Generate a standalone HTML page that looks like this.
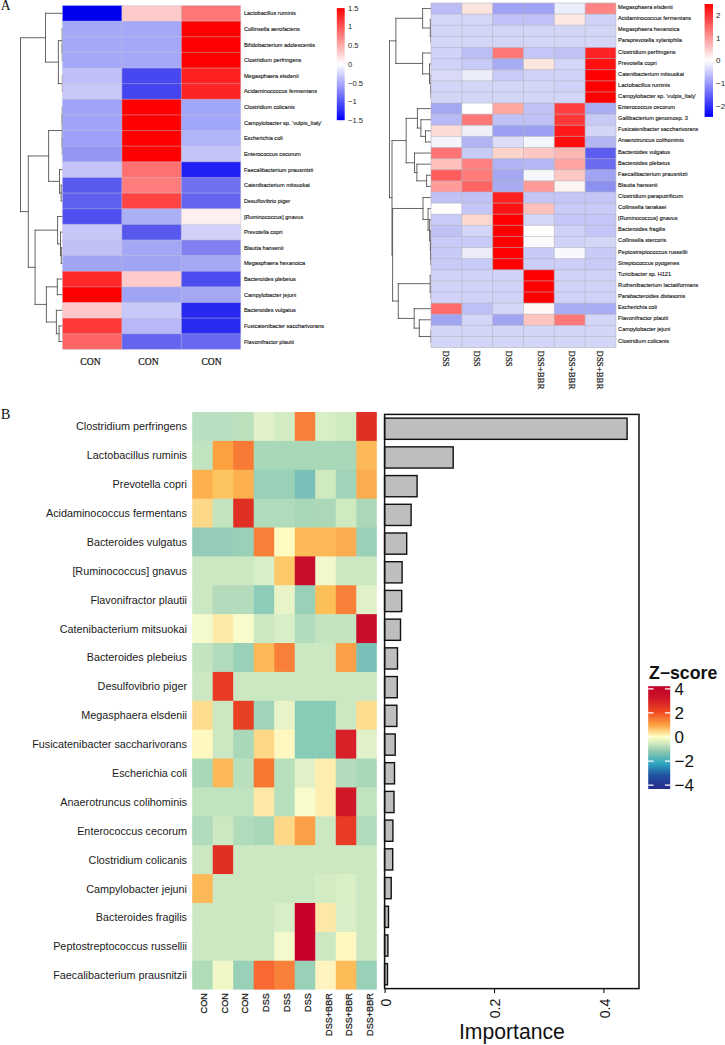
<!DOCTYPE html>
<html><head><meta charset="utf-8"><style>
html,body{margin:0;padding:0;background:#fff;}
body{width:725px;height:1045px;overflow:hidden;font-family:"Liberation Sans", sans-serif;}
svg{display:block;}
</style></head><body>
<svg width="725" height="1045" viewBox="0 0 725 1045">
<rect width="725" height="1045" fill="#FFFFFF"/>
<path d="M431.00 30.79L431.00 30.79M431.00 41.91L431.00 41.91M431.00 30.79L431.00 41.91M431.00 19.67L430.30 19.67M431.00 36.35L430.30 36.35M430.30 19.67L430.30 36.35M431.00 8.56L422.60 8.56M430.30 28.01L422.60 28.01M422.60 8.56L422.60 28.01M431.00 86.37L431.00 86.37M431.00 97.49L431.00 97.49M431.00 86.37L431.00 97.49M431.00 75.25L431.00 75.25M431.00 91.93L431.00 91.93M431.00 75.25L431.00 91.93M431.00 64.14L429.50 64.14M431.00 83.59L429.50 83.59M429.50 64.14L429.50 83.59M431.00 53.02L422.60 53.02M429.50 73.86L422.60 73.86M422.60 53.02L422.60 73.86M422.60 18.28L395.90 18.28M422.60 63.44L395.90 63.44M395.90 18.28L395.90 63.44M431.00 130.83L425.50 130.83M431.00 141.95L425.50 141.95M425.50 130.83L425.50 141.95M431.00 119.72L420.90 119.72M425.50 136.39L420.90 136.39M420.90 119.72L420.90 136.39M431.00 108.60L417.40 108.60M420.90 128.06L417.40 128.06M417.40 108.60L417.40 128.06M431.00 175.30L426.60 175.30M431.00 186.41L426.60 186.41M426.60 175.30L426.60 186.41M431.00 164.18L416.90 164.18M426.60 180.86L416.90 180.86M416.90 164.18L416.90 180.86M431.00 153.07L414.50 153.07M416.90 172.52L414.50 172.52M414.50 153.07L414.50 172.52M417.40 118.33L406.20 118.33M414.50 162.79L406.20 162.79M406.20 118.33L406.20 162.79M431.00 253.11L430.80 253.11M431.00 264.23L430.80 264.23M430.80 253.11L430.80 264.23M431.00 241.99L430.60 241.99M430.80 258.67L430.60 258.67M430.60 241.99L430.60 258.67M431.00 230.88L430.30 230.88M430.60 250.33L430.30 250.33M430.30 230.88L430.30 250.33M431.00 219.76L429.60 219.76M430.30 240.60L429.60 240.60M429.60 219.76L429.60 240.60M431.00 208.65L428.10 208.65M429.60 230.18L428.10 230.18M428.10 208.65L428.10 230.18M431.00 197.53L423.00 197.53M428.10 219.41L423.00 219.41M423.00 197.53L423.00 219.41M431.00 286.46L431.00 286.46M431.00 297.57L431.00 297.57M431.00 286.46L431.00 297.57M431.00 275.34L430.20 275.34M431.00 292.02L430.20 292.02M430.20 275.34L430.20 292.02M431.00 330.92L431.00 330.92M431.00 342.04L431.00 342.04M431.00 330.92L431.00 342.04M431.00 319.81L419.30 319.81M431.00 336.48L419.30 336.48M419.30 319.81L419.30 336.48M431.00 308.69L414.20 308.69M419.30 328.14L414.20 328.14M414.20 308.69L414.20 328.14M430.20 283.68L398.30 283.68M414.20 318.42L398.30 318.42M398.30 283.68L398.30 318.42M423.00 208.47L392.60 208.47M398.30 301.05L392.60 301.05M392.60 208.47L392.60 301.05M406.20 140.56L392.00 140.56M392.60 254.76L392.00 254.76M392.00 140.56L392.00 254.76M395.90 40.86L389.50 40.86M392.00 197.66L389.50 197.66M389.50 40.86L389.50 197.66" stroke="#555" stroke-width="0.9" fill="none" stroke-linecap="square"/>
<path d="M62.40 44.58L62.30 44.58M62.40 60.21L62.30 60.21M62.30 44.58L62.30 60.21M62.40 28.95L62.20 28.95M62.30 52.39L62.20 52.39M62.20 28.95L62.20 52.39M62.40 75.84L62.40 75.84M62.40 91.47L62.40 91.47M62.40 75.84L62.40 91.47M62.20 40.67L58.40 40.67M62.40 83.65L58.40 83.65M58.40 40.67L58.40 83.65M62.40 13.32L45.50 13.32M58.40 62.16L45.50 62.16M45.50 13.32L45.50 62.16M62.40 107.09L62.30 107.09M62.40 122.73L62.30 122.73M62.30 107.09L62.30 122.73M62.40 138.36L62.30 138.36M62.40 153.99L62.30 153.99M62.30 138.36L62.30 153.99M62.30 114.91L62.20 114.91M62.30 146.17L62.20 146.17M62.20 114.91L62.20 146.17M62.40 185.25L61.20 185.25M62.40 200.88L61.20 200.88M61.20 185.25L61.20 200.88M62.40 169.62L59.50 169.62M61.20 193.06L59.50 193.06M59.50 169.62L59.50 193.06M62.20 130.54L48.60 130.54M59.50 181.34L48.60 181.34M48.60 130.54L48.60 181.34M62.40 247.77L61.30 247.77M62.40 263.40L61.30 263.40M61.30 247.77L61.30 263.40M62.40 232.14L60.50 232.14M61.30 255.58L60.50 255.58M60.50 232.14L60.50 255.58M62.40 216.51L57.60 216.51M60.50 243.86L57.60 243.86M57.60 216.51L57.60 243.86M62.40 279.03L57.30 279.03M62.40 294.66L57.30 294.66M57.30 279.03L57.30 294.66M62.40 325.92L59.10 325.92M62.40 341.55L59.10 341.55M59.10 325.92L59.10 341.55M62.40 310.29L56.40 310.29M59.10 333.73L56.40 333.73M56.40 310.29L56.40 333.73M57.30 286.84L46.40 286.84M56.40 322.01L46.40 322.01M46.40 286.84L46.40 322.01M57.60 230.18L35.10 230.18M46.40 304.42L35.10 304.42M35.10 230.18L35.10 304.42M48.60 155.94L28.30 155.94M35.10 267.30L28.30 267.30M28.30 155.94L28.30 267.30M45.50 37.74L20.50 37.74M28.30 211.62L20.50 211.62M20.50 37.74L20.50 211.62" stroke="#555" stroke-width="0.9" fill="none" stroke-linecap="square"/>
<rect x="62.40" y="5.50" width="60.05" height="16.23" fill="#0000F0"/>
<rect x="121.85" y="5.50" width="60.05" height="16.23" fill="#FDCACA"/>
<rect x="181.30" y="5.50" width="59.45" height="16.23" fill="#FF7878"/>
<rect x="62.40" y="21.13" width="60.05" height="16.23" fill="#A4A8F8"/>
<rect x="121.85" y="21.13" width="60.05" height="16.23" fill="#A4A8F8"/>
<rect x="181.30" y="21.13" width="59.45" height="16.23" fill="#FF0000"/>
<rect x="62.40" y="36.76" width="60.05" height="16.23" fill="#A4A8F8"/>
<rect x="121.85" y="36.76" width="60.05" height="16.23" fill="#A4A8F8"/>
<rect x="181.30" y="36.76" width="59.45" height="16.23" fill="#FF0000"/>
<rect x="62.40" y="52.39" width="60.05" height="16.23" fill="#A4A8F8"/>
<rect x="121.85" y="52.39" width="60.05" height="16.23" fill="#A4A8F8"/>
<rect x="181.30" y="52.39" width="59.45" height="16.23" fill="#FF0000"/>
<rect x="62.40" y="68.02" width="60.05" height="16.23" fill="#C0C0F8"/>
<rect x="121.85" y="68.02" width="60.05" height="16.23" fill="#4848F0"/>
<rect x="181.30" y="68.02" width="59.45" height="16.23" fill="#FF2020"/>
<rect x="62.40" y="83.65" width="60.05" height="16.23" fill="#C8C8F8"/>
<rect x="121.85" y="83.65" width="60.05" height="16.23" fill="#4444F0"/>
<rect x="181.30" y="83.65" width="59.45" height="16.23" fill="#FF2424"/>
<rect x="62.40" y="99.28" width="60.05" height="16.23" fill="#A0A4F8"/>
<rect x="121.85" y="99.28" width="60.05" height="16.23" fill="#FF0000"/>
<rect x="181.30" y="99.28" width="59.45" height="16.23" fill="#A0A6F8"/>
<rect x="62.40" y="114.91" width="60.05" height="16.23" fill="#A0A4F8"/>
<rect x="121.85" y="114.91" width="60.05" height="16.23" fill="#FF0000"/>
<rect x="181.30" y="114.91" width="59.45" height="16.23" fill="#A0A6F8"/>
<rect x="62.40" y="130.54" width="60.05" height="16.23" fill="#9CA0F6"/>
<rect x="121.85" y="130.54" width="60.05" height="16.23" fill="#FF0000"/>
<rect x="181.30" y="130.54" width="59.45" height="16.23" fill="#B0B4F8"/>
<rect x="62.40" y="146.17" width="60.05" height="16.23" fill="#9496F4"/>
<rect x="121.85" y="146.17" width="60.05" height="16.23" fill="#FF0000"/>
<rect x="181.30" y="146.17" width="59.45" height="16.23" fill="#C4C4F8"/>
<rect x="62.40" y="161.80" width="60.05" height="16.23" fill="#C4C4F8"/>
<rect x="121.85" y="161.80" width="60.05" height="16.23" fill="#FF7070"/>
<rect x="181.30" y="161.80" width="59.45" height="16.23" fill="#2020F4"/>
<rect x="62.40" y="177.43" width="60.05" height="16.23" fill="#5A5AF0"/>
<rect x="121.85" y="177.43" width="60.05" height="16.23" fill="#FF7C7C"/>
<rect x="181.30" y="177.43" width="59.45" height="16.23" fill="#7070F0"/>
<rect x="62.40" y="193.06" width="60.05" height="16.23" fill="#6060F0"/>
<rect x="121.85" y="193.06" width="60.05" height="16.23" fill="#FF4444"/>
<rect x="181.30" y="193.06" width="59.45" height="16.23" fill="#6464F0"/>
<rect x="62.40" y="208.69" width="60.05" height="16.23" fill="#5050F0"/>
<rect x="121.85" y="208.69" width="60.05" height="16.23" fill="#ABAFF5"/>
<rect x="181.30" y="208.69" width="59.45" height="16.23" fill="#FDF0EE"/>
<rect x="62.40" y="224.32" width="60.05" height="16.23" fill="#C8C8F8"/>
<rect x="121.85" y="224.32" width="60.05" height="16.23" fill="#5858EE"/>
<rect x="181.30" y="224.32" width="59.45" height="16.23" fill="#D0D0F8"/>
<rect x="62.40" y="239.95" width="60.05" height="16.23" fill="#C0C0F4"/>
<rect x="121.85" y="239.95" width="60.05" height="16.23" fill="#A4A8F4"/>
<rect x="181.30" y="239.95" width="59.45" height="16.23" fill="#8080F0"/>
<rect x="62.40" y="255.58" width="60.05" height="16.23" fill="#A0A4F4"/>
<rect x="121.85" y="255.58" width="60.05" height="16.23" fill="#A0A4F4"/>
<rect x="181.30" y="255.58" width="59.45" height="16.23" fill="#A4A8F4"/>
<rect x="62.40" y="271.21" width="60.05" height="16.23" fill="#FF2828"/>
<rect x="121.85" y="271.21" width="60.05" height="16.23" fill="#FFCACA"/>
<rect x="181.30" y="271.21" width="59.45" height="16.23" fill="#4C4CF0"/>
<rect x="62.40" y="286.84" width="60.05" height="16.23" fill="#FF0000"/>
<rect x="121.85" y="286.84" width="60.05" height="16.23" fill="#A0A4F4"/>
<rect x="181.30" y="286.84" width="59.45" height="16.23" fill="#A4A8F4"/>
<rect x="62.40" y="302.47" width="60.05" height="16.23" fill="#FFC8C8"/>
<rect x="121.85" y="302.47" width="60.05" height="16.23" fill="#C8C8F8"/>
<rect x="181.30" y="302.47" width="59.45" height="16.23" fill="#2828F0"/>
<rect x="62.40" y="318.10" width="60.05" height="16.23" fill="#FF3838"/>
<rect x="121.85" y="318.10" width="60.05" height="16.23" fill="#B8B8F8"/>
<rect x="181.30" y="318.10" width="59.45" height="16.23" fill="#2A2AF0"/>
<rect x="62.40" y="333.73" width="60.05" height="15.63" fill="#FF6464"/>
<rect x="121.85" y="333.73" width="60.05" height="15.63" fill="#6464F0"/>
<rect x="181.30" y="333.73" width="59.45" height="15.63" fill="#6868F0"/>
<path d="M62.40 5.50H240.75M62.40 21.13H240.75M62.40 36.76H240.75M62.40 52.39H240.75M62.40 68.02H240.75M62.40 83.65H240.75M62.40 99.28H240.75M62.40 114.91H240.75M62.40 130.54H240.75M62.40 146.17H240.75M62.40 161.80H240.75M62.40 177.43H240.75M62.40 193.06H240.75M62.40 208.69H240.75M62.40 224.32H240.75M62.40 239.95H240.75M62.40 255.58H240.75M62.40 271.21H240.75M62.40 286.84H240.75M62.40 302.47H240.75M62.40 318.10H240.75M62.40 333.73H240.75M62.40 349.36H240.75M62.40 5.50V349.36M121.85 5.50V349.36M181.30 5.50V349.36M240.75 5.50V349.36" stroke="#C8C8D4" stroke-width="0.45" fill="none"/>
<text x="243.9" y="13.32" font-size="5.6" fill="#111" stroke="#111" stroke-width="0.12" font-family='"Liberation Sans", sans-serif' dominant-baseline="central">Lactobacillus ruminis</text>
<text x="243.9" y="28.95" font-size="5.6" fill="#111" stroke="#111" stroke-width="0.12" font-family='"Liberation Sans", sans-serif' dominant-baseline="central">Collinsella aerofaciens</text>
<text x="243.9" y="44.58" font-size="5.6" fill="#111" stroke="#111" stroke-width="0.12" font-family='"Liberation Sans", sans-serif' dominant-baseline="central">Bifidobacterium adolescentis</text>
<text x="243.9" y="60.21" font-size="5.6" fill="#111" stroke="#111" stroke-width="0.12" font-family='"Liberation Sans", sans-serif' dominant-baseline="central">Clostridium perfringens</text>
<text x="243.9" y="75.84" font-size="5.6" fill="#111" stroke="#111" stroke-width="0.12" font-family='"Liberation Sans", sans-serif' dominant-baseline="central">Megasphaera elsdenii</text>
<text x="243.9" y="91.47" font-size="5.6" fill="#111" stroke="#111" stroke-width="0.12" font-family='"Liberation Sans", sans-serif' dominant-baseline="central">Acidaminococcus fermentans</text>
<text x="243.9" y="107.09" font-size="5.6" fill="#111" stroke="#111" stroke-width="0.12" font-family='"Liberation Sans", sans-serif' dominant-baseline="central">Clostridium colicanis</text>
<text x="243.9" y="122.73" font-size="5.6" fill="#111" stroke="#111" stroke-width="0.12" font-family='"Liberation Sans", sans-serif' dominant-baseline="central">Campylobacter sp. &#39;vulpis_Italy&#39;</text>
<text x="243.9" y="138.36" font-size="5.6" fill="#111" stroke="#111" stroke-width="0.12" font-family='"Liberation Sans", sans-serif' dominant-baseline="central">Escherichia coli</text>
<text x="243.9" y="153.99" font-size="5.6" fill="#111" stroke="#111" stroke-width="0.12" font-family='"Liberation Sans", sans-serif' dominant-baseline="central">Enterococcus cecorum</text>
<text x="243.9" y="169.62" font-size="5.6" fill="#111" stroke="#111" stroke-width="0.12" font-family='"Liberation Sans", sans-serif' dominant-baseline="central">Faecalibacterium prausnitzii</text>
<text x="243.9" y="185.25" font-size="5.6" fill="#111" stroke="#111" stroke-width="0.12" font-family='"Liberation Sans", sans-serif' dominant-baseline="central">Catenibacterium mitsuokai</text>
<text x="243.9" y="200.88" font-size="5.6" fill="#111" stroke="#111" stroke-width="0.12" font-family='"Liberation Sans", sans-serif' dominant-baseline="central">Desulfovibrio piger</text>
<text x="243.9" y="216.51" font-size="5.6" fill="#111" stroke="#111" stroke-width="0.12" font-family='"Liberation Sans", sans-serif' dominant-baseline="central">[Ruminococcus] gnavus</text>
<text x="243.9" y="232.14" font-size="5.6" fill="#111" stroke="#111" stroke-width="0.12" font-family='"Liberation Sans", sans-serif' dominant-baseline="central">Prevotella copri</text>
<text x="243.9" y="247.77" font-size="5.6" fill="#111" stroke="#111" stroke-width="0.12" font-family='"Liberation Sans", sans-serif' dominant-baseline="central">Blautia hansenii</text>
<text x="243.9" y="263.40" font-size="5.6" fill="#111" stroke="#111" stroke-width="0.12" font-family='"Liberation Sans", sans-serif' dominant-baseline="central">Megasphaera hexanoica</text>
<text x="243.9" y="279.03" font-size="5.6" fill="#111" stroke="#111" stroke-width="0.12" font-family='"Liberation Sans", sans-serif' dominant-baseline="central">Bacteroides plebeius</text>
<text x="243.9" y="294.66" font-size="5.6" fill="#111" stroke="#111" stroke-width="0.12" font-family='"Liberation Sans", sans-serif' dominant-baseline="central">Campylobacter jejuni</text>
<text x="243.9" y="310.29" font-size="5.6" fill="#111" stroke="#111" stroke-width="0.12" font-family='"Liberation Sans", sans-serif' dominant-baseline="central">Bacteroides vulgatus</text>
<text x="243.9" y="325.92" font-size="5.6" fill="#111" stroke="#111" stroke-width="0.12" font-family='"Liberation Sans", sans-serif' dominant-baseline="central">Fusicatenibacter saccharivorans</text>
<text x="243.9" y="341.55" font-size="5.6" fill="#111" stroke="#111" stroke-width="0.12" font-family='"Liberation Sans", sans-serif' dominant-baseline="central">Flavonifractor plautii</text>
<text x="90.50" y="364.7" font-size="9.6" stroke="#111" stroke-width="0.2" fill="#111" font-family='"Liberation Serif", serif' text-anchor="middle">CON</text>
<text x="148.50" y="364.7" font-size="9.6" stroke="#111" stroke-width="0.2" fill="#111" font-family='"Liberation Serif", serif' text-anchor="middle">CON</text>
<text x="211.60" y="364.7" font-size="9.6" stroke="#111" stroke-width="0.2" fill="#111" font-family='"Liberation Serif", serif' text-anchor="middle">CON</text>
<defs><linearGradient id="g1" x1="0" y1="0" x2="0" y2="1"><stop offset="0" stop-color="#FF0000"/><stop offset="0.5" stop-color="#FFFFFF"/><stop offset="1" stop-color="#0000FF"/></linearGradient><linearGradient id="g2" x1="0" y1="0" x2="0" y2="1"><stop offset="0" stop-color="#FF0000"/><stop offset="0.5" stop-color="#FFFFFF"/><stop offset="1" stop-color="#0000FF"/></linearGradient></defs>
<rect x="336.8" y="8.1" width="7.9" height="112.1" fill="url(#g1)"/>
<text x="348" y="8.20" font-size="7.6" fill="#222" font-family='"Liberation Sans", sans-serif' dominant-baseline="central">1.5</text>
<text x="348" y="26.90" font-size="7.6" fill="#222" font-family='"Liberation Sans", sans-serif' dominant-baseline="central">1</text>
<text x="348" y="45.60" font-size="7.6" fill="#222" font-family='"Liberation Sans", sans-serif' dominant-baseline="central">0.5</text>
<text x="348" y="64.30" font-size="7.6" fill="#222" font-family='"Liberation Sans", sans-serif' dominant-baseline="central">0</text>
<text x="348" y="83.00" font-size="7.6" fill="#222" font-family='"Liberation Sans", sans-serif' dominant-baseline="central">−0.5</text>
<text x="348" y="101.70" font-size="7.6" fill="#222" font-family='"Liberation Sans", sans-serif' dominant-baseline="central">−1</text>
<text x="348" y="120.40" font-size="7.6" fill="#222" font-family='"Liberation Sans", sans-serif' dominant-baseline="central">−1.5</text>
<rect x="431.00" y="3.00" width="31.42" height="11.72" fill="#BCBCF6"/>
<rect x="461.82" y="3.00" width="31.42" height="11.72" fill="#FCE4DE"/>
<rect x="492.64" y="3.00" width="31.42" height="11.72" fill="#A0A2F6"/>
<rect x="523.46" y="3.00" width="31.42" height="11.72" fill="#A0A2F6"/>
<rect x="554.28" y="3.00" width="31.42" height="11.72" fill="#ECEEFB"/>
<rect x="585.10" y="3.00" width="30.82" height="11.72" fill="#FF8484"/>
<rect x="431.00" y="14.12" width="31.42" height="11.72" fill="#D4D6F8"/>
<rect x="461.82" y="14.12" width="31.42" height="11.72" fill="#D4D6F8"/>
<rect x="492.64" y="14.12" width="31.42" height="11.72" fill="#C0C2F7"/>
<rect x="523.46" y="14.12" width="31.42" height="11.72" fill="#C0C2F7"/>
<rect x="554.28" y="14.12" width="31.42" height="11.72" fill="#FDE8E4"/>
<rect x="585.10" y="14.12" width="30.82" height="11.72" fill="#D0D2F8"/>
<rect x="431.00" y="25.23" width="31.42" height="11.72" fill="#D4D6F8"/>
<rect x="461.82" y="25.23" width="31.42" height="11.72" fill="#D4D6F8"/>
<rect x="492.64" y="25.23" width="31.42" height="11.72" fill="#D4D6F8"/>
<rect x="523.46" y="25.23" width="31.42" height="11.72" fill="#D4D6F8"/>
<rect x="554.28" y="25.23" width="31.42" height="11.72" fill="#D4D6F8"/>
<rect x="585.10" y="25.23" width="30.82" height="11.72" fill="#D4D6F8"/>
<rect x="431.00" y="36.35" width="31.42" height="11.72" fill="#D4D6F8"/>
<rect x="461.82" y="36.35" width="31.42" height="11.72" fill="#D4D6F8"/>
<rect x="492.64" y="36.35" width="31.42" height="11.72" fill="#D4D6F8"/>
<rect x="523.46" y="36.35" width="31.42" height="11.72" fill="#D4D6F8"/>
<rect x="554.28" y="36.35" width="31.42" height="11.72" fill="#D4D6F8"/>
<rect x="585.10" y="36.35" width="30.82" height="11.72" fill="#D4D6F8"/>
<rect x="431.00" y="47.46" width="31.42" height="11.72" fill="#D0D2F8"/>
<rect x="461.82" y="47.46" width="31.42" height="11.72" fill="#BCBEF6"/>
<rect x="492.64" y="47.46" width="31.42" height="11.72" fill="#FF7878"/>
<rect x="523.46" y="47.46" width="31.42" height="11.72" fill="#C4C6F7"/>
<rect x="554.28" y="47.46" width="31.42" height="11.72" fill="#C0C2F6"/>
<rect x="585.10" y="47.46" width="30.82" height="11.72" fill="#FF2424"/>
<rect x="431.00" y="58.58" width="31.42" height="11.72" fill="#D0D2F8"/>
<rect x="461.82" y="58.58" width="31.42" height="11.72" fill="#C8CAF7"/>
<rect x="492.64" y="58.58" width="31.42" height="11.72" fill="#A8ACF2"/>
<rect x="523.46" y="58.58" width="31.42" height="11.72" fill="#FCE6E0"/>
<rect x="554.28" y="58.58" width="31.42" height="11.72" fill="#D4D6F8"/>
<rect x="585.10" y="58.58" width="30.82" height="11.72" fill="#FF1010"/>
<rect x="431.00" y="69.70" width="31.42" height="11.72" fill="#D8DAF8"/>
<rect x="461.82" y="69.70" width="31.42" height="11.72" fill="#ECEDFB"/>
<rect x="492.64" y="69.70" width="31.42" height="11.72" fill="#C8CAF7"/>
<rect x="523.46" y="69.70" width="31.42" height="11.72" fill="#D0D2F8"/>
<rect x="554.28" y="69.70" width="31.42" height="11.72" fill="#D0D2F8"/>
<rect x="585.10" y="69.70" width="30.82" height="11.72" fill="#FF0000"/>
<rect x="431.00" y="80.81" width="31.42" height="11.72" fill="#D4D6F8"/>
<rect x="461.82" y="80.81" width="31.42" height="11.72" fill="#D4D6F8"/>
<rect x="492.64" y="80.81" width="31.42" height="11.72" fill="#D4D6F8"/>
<rect x="523.46" y="80.81" width="31.42" height="11.72" fill="#D4D6F8"/>
<rect x="554.28" y="80.81" width="31.42" height="11.72" fill="#D0D2F8"/>
<rect x="585.10" y="80.81" width="30.82" height="11.72" fill="#FF0000"/>
<rect x="431.00" y="91.93" width="31.42" height="11.72" fill="#D4D6F8"/>
<rect x="461.82" y="91.93" width="31.42" height="11.72" fill="#D4D6F8"/>
<rect x="492.64" y="91.93" width="31.42" height="11.72" fill="#D4D6F8"/>
<rect x="523.46" y="91.93" width="31.42" height="11.72" fill="#D4D6F8"/>
<rect x="554.28" y="91.93" width="31.42" height="11.72" fill="#D4D6F8"/>
<rect x="585.10" y="91.93" width="30.82" height="11.72" fill="#FF0000"/>
<rect x="431.00" y="103.04" width="31.42" height="11.72" fill="#A4A8F2"/>
<rect x="461.82" y="103.04" width="31.42" height="11.72" fill="#FFFFFF"/>
<rect x="492.64" y="103.04" width="31.42" height="11.72" fill="#FFA8A0"/>
<rect x="523.46" y="103.04" width="31.42" height="11.72" fill="#C0C2F6"/>
<rect x="554.28" y="103.04" width="31.42" height="11.72" fill="#FF4040"/>
<rect x="585.10" y="103.04" width="30.82" height="11.72" fill="#A8ACF2"/>
<rect x="431.00" y="114.16" width="31.42" height="11.72" fill="#B8BAF6"/>
<rect x="461.82" y="114.16" width="31.42" height="11.72" fill="#FF7878"/>
<rect x="492.64" y="114.16" width="31.42" height="11.72" fill="#C0C2F6"/>
<rect x="523.46" y="114.16" width="31.42" height="11.72" fill="#C0C2F6"/>
<rect x="554.28" y="114.16" width="31.42" height="11.72" fill="#FF3838"/>
<rect x="585.10" y="114.16" width="30.82" height="11.72" fill="#C8CAF6"/>
<rect x="431.00" y="125.28" width="31.42" height="11.72" fill="#FDDCD8"/>
<rect x="461.82" y="125.28" width="31.42" height="11.72" fill="#F0F0FB"/>
<rect x="492.64" y="125.28" width="31.42" height="11.72" fill="#9CA0F2"/>
<rect x="523.46" y="125.28" width="31.42" height="11.72" fill="#9CA0F2"/>
<rect x="554.28" y="125.28" width="31.42" height="11.72" fill="#FF1818"/>
<rect x="585.10" y="125.28" width="30.82" height="11.72" fill="#D4D6F8"/>
<rect x="431.00" y="136.39" width="31.42" height="11.72" fill="#F4F4FC"/>
<rect x="461.82" y="136.39" width="31.42" height="11.72" fill="#B0B4F4"/>
<rect x="492.64" y="136.39" width="31.42" height="11.72" fill="#DCDEF8"/>
<rect x="523.46" y="136.39" width="31.42" height="11.72" fill="#F4F4FC"/>
<rect x="554.28" y="136.39" width="31.42" height="11.72" fill="#FF0C0C"/>
<rect x="585.10" y="136.39" width="30.82" height="11.72" fill="#B4B6F4"/>
<rect x="431.00" y="147.51" width="31.42" height="11.72" fill="#FF7474"/>
<rect x="461.82" y="147.51" width="31.42" height="11.72" fill="#C8CAF7"/>
<rect x="492.64" y="147.51" width="31.42" height="11.72" fill="#FDD4CC"/>
<rect x="523.46" y="147.51" width="31.42" height="11.72" fill="#FDC8C4"/>
<rect x="554.28" y="147.51" width="31.42" height="11.72" fill="#FDB8B4"/>
<rect x="585.10" y="147.51" width="30.82" height="11.72" fill="#5C5CF0"/>
<rect x="431.00" y="158.62" width="31.42" height="11.72" fill="#FDC0BC"/>
<rect x="461.82" y="158.62" width="31.42" height="11.72" fill="#FF8080"/>
<rect x="492.64" y="158.62" width="31.42" height="11.72" fill="#B0B4F4"/>
<rect x="523.46" y="158.62" width="31.42" height="11.72" fill="#B4B8F4"/>
<rect x="554.28" y="158.62" width="31.42" height="11.72" fill="#FFA4A0"/>
<rect x="585.10" y="158.62" width="30.82" height="11.72" fill="#6C6CF0"/>
<rect x="431.00" y="169.74" width="31.42" height="11.72" fill="#FF5C5C"/>
<rect x="461.82" y="169.74" width="31.42" height="11.72" fill="#FF7C78"/>
<rect x="492.64" y="169.74" width="31.42" height="11.72" fill="#A4A8F2"/>
<rect x="523.46" y="169.74" width="31.42" height="11.72" fill="#F8F8FC"/>
<rect x="554.28" y="169.74" width="31.42" height="11.72" fill="#FDC8C4"/>
<rect x="585.10" y="169.74" width="30.82" height="11.72" fill="#A0A4F2"/>
<rect x="431.00" y="180.86" width="31.42" height="11.72" fill="#FF9C98"/>
<rect x="461.82" y="180.86" width="31.42" height="11.72" fill="#FF6464"/>
<rect x="492.64" y="180.86" width="31.42" height="11.72" fill="#A8ACF2"/>
<rect x="523.46" y="180.86" width="31.42" height="11.72" fill="#FF9C98"/>
<rect x="554.28" y="180.86" width="31.42" height="11.72" fill="#FCF4F0"/>
<rect x="585.10" y="180.86" width="30.82" height="11.72" fill="#8C90F0"/>
<rect x="431.00" y="191.97" width="31.42" height="11.72" fill="#C0C2F6"/>
<rect x="461.82" y="191.97" width="31.42" height="11.72" fill="#C0C2F6"/>
<rect x="492.64" y="191.97" width="31.42" height="11.72" fill="#FF2020"/>
<rect x="523.46" y="191.97" width="31.42" height="11.72" fill="#C4C6F7"/>
<rect x="554.28" y="191.97" width="31.42" height="11.72" fill="#C4C6F7"/>
<rect x="585.10" y="191.97" width="30.82" height="11.72" fill="#C4C6F7"/>
<rect x="431.00" y="203.09" width="31.42" height="11.72" fill="#FFFFFF"/>
<rect x="461.82" y="203.09" width="31.42" height="11.72" fill="#C4C6F7"/>
<rect x="492.64" y="203.09" width="31.42" height="11.72" fill="#FF1414"/>
<rect x="523.46" y="203.09" width="31.42" height="11.72" fill="#FDC0BC"/>
<rect x="554.28" y="203.09" width="31.42" height="11.72" fill="#C8CAF7"/>
<rect x="585.10" y="203.09" width="30.82" height="11.72" fill="#C8CAF7"/>
<rect x="431.00" y="214.20" width="31.42" height="11.72" fill="#C8CAF7"/>
<rect x="461.82" y="214.20" width="31.42" height="11.72" fill="#FDD8D0"/>
<rect x="492.64" y="214.20" width="31.42" height="11.72" fill="#FF0000"/>
<rect x="523.46" y="214.20" width="31.42" height="11.72" fill="#D4D6F8"/>
<rect x="554.28" y="214.20" width="31.42" height="11.72" fill="#C4C6F7"/>
<rect x="585.10" y="214.20" width="30.82" height="11.72" fill="#C4C6F7"/>
<rect x="431.00" y="225.32" width="31.42" height="11.72" fill="#C0C2F6"/>
<rect x="461.82" y="225.32" width="31.42" height="11.72" fill="#D4D6F8"/>
<rect x="492.64" y="225.32" width="31.42" height="11.72" fill="#FF0000"/>
<rect x="523.46" y="225.32" width="31.42" height="11.72" fill="#FFFFFF"/>
<rect x="554.28" y="225.32" width="31.42" height="11.72" fill="#D0D2F8"/>
<rect x="585.10" y="225.32" width="30.82" height="11.72" fill="#C4C6F7"/>
<rect x="431.00" y="236.44" width="31.42" height="11.72" fill="#C8CAF7"/>
<rect x="461.82" y="236.44" width="31.42" height="11.72" fill="#C8CAF7"/>
<rect x="492.64" y="236.44" width="31.42" height="11.72" fill="#FF0000"/>
<rect x="523.46" y="236.44" width="31.42" height="11.72" fill="#FAFAFD"/>
<rect x="554.28" y="236.44" width="31.42" height="11.72" fill="#D0D2F8"/>
<rect x="585.10" y="236.44" width="30.82" height="11.72" fill="#D4D6F8"/>
<rect x="431.00" y="247.55" width="31.42" height="11.72" fill="#C8CAF7"/>
<rect x="461.82" y="247.55" width="31.42" height="11.72" fill="#ECECFB"/>
<rect x="492.64" y="247.55" width="31.42" height="11.72" fill="#FF0000"/>
<rect x="523.46" y="247.55" width="31.42" height="11.72" fill="#C8CAF7"/>
<rect x="554.28" y="247.55" width="31.42" height="11.72" fill="#F8F8FD"/>
<rect x="585.10" y="247.55" width="30.82" height="11.72" fill="#C8CAF7"/>
<rect x="431.00" y="258.67" width="31.42" height="11.72" fill="#C8CAF7"/>
<rect x="461.82" y="258.67" width="31.42" height="11.72" fill="#C8CAF7"/>
<rect x="492.64" y="258.67" width="31.42" height="11.72" fill="#FF0000"/>
<rect x="523.46" y="258.67" width="31.42" height="11.72" fill="#CCCEF7"/>
<rect x="554.28" y="258.67" width="31.42" height="11.72" fill="#CCCEF7"/>
<rect x="585.10" y="258.67" width="30.82" height="11.72" fill="#C8CAF7"/>
<rect x="431.00" y="269.78" width="31.42" height="11.72" fill="#D0D2F8"/>
<rect x="461.82" y="269.78" width="31.42" height="11.72" fill="#D0D2F8"/>
<rect x="492.64" y="269.78" width="31.42" height="11.72" fill="#D0D2F8"/>
<rect x="523.46" y="269.78" width="31.42" height="11.72" fill="#FF0000"/>
<rect x="554.28" y="269.78" width="31.42" height="11.72" fill="#D0D2F8"/>
<rect x="585.10" y="269.78" width="30.82" height="11.72" fill="#D0D2F8"/>
<rect x="431.00" y="280.90" width="31.42" height="11.72" fill="#D0D2F8"/>
<rect x="461.82" y="280.90" width="31.42" height="11.72" fill="#D0D2F8"/>
<rect x="492.64" y="280.90" width="31.42" height="11.72" fill="#D0D2F8"/>
<rect x="523.46" y="280.90" width="31.42" height="11.72" fill="#FF0000"/>
<rect x="554.28" y="280.90" width="31.42" height="11.72" fill="#D0D2F8"/>
<rect x="585.10" y="280.90" width="30.82" height="11.72" fill="#D0D2F8"/>
<rect x="431.00" y="292.02" width="31.42" height="11.72" fill="#D0D2F8"/>
<rect x="461.82" y="292.02" width="31.42" height="11.72" fill="#D0D2F8"/>
<rect x="492.64" y="292.02" width="31.42" height="11.72" fill="#D0D2F8"/>
<rect x="523.46" y="292.02" width="31.42" height="11.72" fill="#FF0000"/>
<rect x="554.28" y="292.02" width="31.42" height="11.72" fill="#D0D2F8"/>
<rect x="585.10" y="292.02" width="30.82" height="11.72" fill="#D0D2F8"/>
<rect x="431.00" y="303.13" width="31.42" height="11.72" fill="#FF6A6A"/>
<rect x="461.82" y="303.13" width="31.42" height="11.72" fill="#BCC0F6"/>
<rect x="492.64" y="303.13" width="31.42" height="11.72" fill="#D4D6F8"/>
<rect x="523.46" y="303.13" width="31.42" height="11.72" fill="#FFF8F6"/>
<rect x="554.28" y="303.13" width="31.42" height="11.72" fill="#A8ACF4"/>
<rect x="585.10" y="303.13" width="30.82" height="11.72" fill="#A8ACF4"/>
<rect x="431.00" y="314.25" width="31.42" height="11.72" fill="#A0A4F2"/>
<rect x="461.82" y="314.25" width="31.42" height="11.72" fill="#D4D6F8"/>
<rect x="492.64" y="314.25" width="31.42" height="11.72" fill="#A0A4F2"/>
<rect x="523.46" y="314.25" width="31.42" height="11.72" fill="#FDC4C0"/>
<rect x="554.28" y="314.25" width="31.42" height="11.72" fill="#FF7878"/>
<rect x="585.10" y="314.25" width="30.82" height="11.72" fill="#D4D6F8"/>
<rect x="431.00" y="325.36" width="31.42" height="11.72" fill="#D4D6F8"/>
<rect x="461.82" y="325.36" width="31.42" height="11.72" fill="#D4D6F8"/>
<rect x="492.64" y="325.36" width="31.42" height="11.72" fill="#D4D6F8"/>
<rect x="523.46" y="325.36" width="31.42" height="11.72" fill="#D4D6F8"/>
<rect x="554.28" y="325.36" width="31.42" height="11.72" fill="#D4D6F8"/>
<rect x="585.10" y="325.36" width="30.82" height="11.72" fill="#D4D6F8"/>
<rect x="431.00" y="336.48" width="31.42" height="11.12" fill="#D4D6F8"/>
<rect x="461.82" y="336.48" width="31.42" height="11.12" fill="#D4D6F8"/>
<rect x="492.64" y="336.48" width="31.42" height="11.12" fill="#D4D6F8"/>
<rect x="523.46" y="336.48" width="31.42" height="11.12" fill="#D4D6F8"/>
<rect x="554.28" y="336.48" width="31.42" height="11.12" fill="#D4D6F8"/>
<rect x="585.10" y="336.48" width="30.82" height="11.12" fill="#D4D6F8"/>
<path d="M431.00 3.00H615.92M431.00 14.12H615.92M431.00 25.23H615.92M431.00 36.35H615.92M431.00 47.46H615.92M431.00 58.58H615.92M431.00 69.70H615.92M431.00 80.81H615.92M431.00 91.93H615.92M431.00 103.04H615.92M431.00 114.16H615.92M431.00 125.28H615.92M431.00 136.39H615.92M431.00 147.51H615.92M431.00 158.62H615.92M431.00 169.74H615.92M431.00 180.86H615.92M431.00 191.97H615.92M431.00 203.09H615.92M431.00 214.20H615.92M431.00 225.32H615.92M431.00 236.44H615.92M431.00 247.55H615.92M431.00 258.67H615.92M431.00 269.78H615.92M431.00 280.90H615.92M431.00 292.02H615.92M431.00 303.13H615.92M431.00 314.25H615.92M431.00 325.36H615.92M431.00 336.48H615.92M431.00 347.60H615.92M431.00 3.00V347.60M461.82 3.00V347.60M492.64 3.00V347.60M523.46 3.00V347.60M554.28 3.00V347.60M585.10 3.00V347.60M615.92 3.00V347.60" stroke="#B4B4C0" stroke-width="0.6" fill="none"/>
<text x="618.1" y="7.06" font-size="5.6" fill="#111" stroke="#111" stroke-width="0.12" font-family='"Liberation Sans", sans-serif' dominant-baseline="central">Megasphaera elsdenii</text>
<text x="618.1" y="18.17" font-size="5.6" fill="#111" stroke="#111" stroke-width="0.12" font-family='"Liberation Sans", sans-serif' dominant-baseline="central">Acidaminococcus fermentans</text>
<text x="618.1" y="29.29" font-size="5.6" fill="#111" stroke="#111" stroke-width="0.12" font-family='"Liberation Sans", sans-serif' dominant-baseline="central">Megasphaera hexanoica</text>
<text x="618.1" y="40.41" font-size="5.6" fill="#111" stroke="#111" stroke-width="0.12" font-family='"Liberation Sans", sans-serif' dominant-baseline="central">Paraprevotella xylaniphila</text>
<text x="618.1" y="51.52" font-size="5.6" fill="#111" stroke="#111" stroke-width="0.12" font-family='"Liberation Sans", sans-serif' dominant-baseline="central">Clostridium perfringens</text>
<text x="618.1" y="62.64" font-size="5.6" fill="#111" stroke="#111" stroke-width="0.12" font-family='"Liberation Sans", sans-serif' dominant-baseline="central">Prevotella copri</text>
<text x="618.1" y="73.75" font-size="5.6" fill="#111" stroke="#111" stroke-width="0.12" font-family='"Liberation Sans", sans-serif' dominant-baseline="central">Catenibacterium mitsuokai</text>
<text x="618.1" y="84.87" font-size="5.6" fill="#111" stroke="#111" stroke-width="0.12" font-family='"Liberation Sans", sans-serif' dominant-baseline="central">Lactobacillus ruminis</text>
<text x="618.1" y="95.99" font-size="5.6" fill="#111" stroke="#111" stroke-width="0.12" font-family='"Liberation Sans", sans-serif' dominant-baseline="central">Campylobacter sp. &#39;vulpis_Italy&#39;</text>
<text x="618.1" y="107.10" font-size="5.6" fill="#111" stroke="#111" stroke-width="0.12" font-family='"Liberation Sans", sans-serif' dominant-baseline="central">Enterococcus cecorum</text>
<text x="618.1" y="118.22" font-size="5.6" fill="#111" stroke="#111" stroke-width="0.12" font-family='"Liberation Sans", sans-serif' dominant-baseline="central">Gallibacterium genomosp. 3</text>
<text x="618.1" y="129.33" font-size="5.6" fill="#111" stroke="#111" stroke-width="0.12" font-family='"Liberation Sans", sans-serif' dominant-baseline="central">Fusicatenibacter saccharivorans</text>
<text x="618.1" y="140.45" font-size="5.6" fill="#111" stroke="#111" stroke-width="0.12" font-family='"Liberation Sans", sans-serif' dominant-baseline="central">Anaerotruncus colihominis</text>
<text x="618.1" y="151.57" font-size="5.6" fill="#111" stroke="#111" stroke-width="0.12" font-family='"Liberation Sans", sans-serif' dominant-baseline="central">Bacteroides vulgatus</text>
<text x="618.1" y="162.68" font-size="5.6" fill="#111" stroke="#111" stroke-width="0.12" font-family='"Liberation Sans", sans-serif' dominant-baseline="central">Bacteroides plebeius</text>
<text x="618.1" y="173.80" font-size="5.6" fill="#111" stroke="#111" stroke-width="0.12" font-family='"Liberation Sans", sans-serif' dominant-baseline="central">Faecalibacterium prausnitzii</text>
<text x="618.1" y="184.91" font-size="5.6" fill="#111" stroke="#111" stroke-width="0.12" font-family='"Liberation Sans", sans-serif' dominant-baseline="central">Blautia hansenii</text>
<text x="618.1" y="196.03" font-size="5.6" fill="#111" stroke="#111" stroke-width="0.12" font-family='"Liberation Sans", sans-serif' dominant-baseline="central">Clostridium paraputrificum</text>
<text x="618.1" y="207.15" font-size="5.6" fill="#111" stroke="#111" stroke-width="0.12" font-family='"Liberation Sans", sans-serif' dominant-baseline="central">Collinsella tanakaei</text>
<text x="618.1" y="218.26" font-size="5.6" fill="#111" stroke="#111" stroke-width="0.12" font-family='"Liberation Sans", sans-serif' dominant-baseline="central">[Ruminococcus] gnavus</text>
<text x="618.1" y="229.38" font-size="5.6" fill="#111" stroke="#111" stroke-width="0.12" font-family='"Liberation Sans", sans-serif' dominant-baseline="central">Bacteroides fragilis</text>
<text x="618.1" y="240.49" font-size="5.6" fill="#111" stroke="#111" stroke-width="0.12" font-family='"Liberation Sans", sans-serif' dominant-baseline="central">Collinsella stercoris</text>
<text x="618.1" y="251.61" font-size="5.6" fill="#111" stroke="#111" stroke-width="0.12" font-family='"Liberation Sans", sans-serif' dominant-baseline="central">Peptostreptococcus russellii</text>
<text x="618.1" y="262.73" font-size="5.6" fill="#111" stroke="#111" stroke-width="0.12" font-family='"Liberation Sans", sans-serif' dominant-baseline="central">Streptococcus pyogenes</text>
<text x="618.1" y="273.84" font-size="5.6" fill="#111" stroke="#111" stroke-width="0.12" font-family='"Liberation Sans", sans-serif' dominant-baseline="central">Turicibacter sp. H121</text>
<text x="618.1" y="284.96" font-size="5.6" fill="#111" stroke="#111" stroke-width="0.12" font-family='"Liberation Sans", sans-serif' dominant-baseline="central">Ruthenibacterium lactatiformans</text>
<text x="618.1" y="296.07" font-size="5.6" fill="#111" stroke="#111" stroke-width="0.12" font-family='"Liberation Sans", sans-serif' dominant-baseline="central">Parabacteroides distasonis</text>
<text x="618.1" y="307.19" font-size="5.6" fill="#111" stroke="#111" stroke-width="0.12" font-family='"Liberation Sans", sans-serif' dominant-baseline="central">Escherichia coli</text>
<text x="618.1" y="318.31" font-size="5.6" fill="#111" stroke="#111" stroke-width="0.12" font-family='"Liberation Sans", sans-serif' dominant-baseline="central">Flavonifractor plautii</text>
<text x="618.1" y="329.42" font-size="5.6" fill="#111" stroke="#111" stroke-width="0.12" font-family='"Liberation Sans", sans-serif' dominant-baseline="central">Campylobacter jejuni</text>
<text x="618.1" y="340.54" font-size="5.6" fill="#111" stroke="#111" stroke-width="0.12" font-family='"Liberation Sans", sans-serif' dominant-baseline="central">Clostridium colicanis</text>
<text transform="translate(446.20 350.6) rotate(90)" x="0" y="0" font-size="8.8" stroke="#111" stroke-width="0.2" fill="#111" font-family='"Liberation Serif", serif' dominant-baseline="central">DSS</text>
<text transform="translate(477.20 350.6) rotate(90)" x="0" y="0" font-size="8.8" stroke="#111" stroke-width="0.2" fill="#111" font-family='"Liberation Serif", serif' dominant-baseline="central">DSS</text>
<text transform="translate(509.00 350.6) rotate(90)" x="0" y="0" font-size="8.8" stroke="#111" stroke-width="0.2" fill="#111" font-family='"Liberation Serif", serif' dominant-baseline="central">DSS</text>
<text transform="translate(540.50 350.6) rotate(90)" x="0" y="0" font-size="8.8" stroke="#111" stroke-width="0.2" fill="#111" font-family='"Liberation Serif", serif' dominant-baseline="central">DSS+BBR</text>
<text transform="translate(572.20 350.6) rotate(90)" x="0" y="0" font-size="8.8" stroke="#111" stroke-width="0.2" fill="#111" font-family='"Liberation Serif", serif' dominant-baseline="central">DSS+BBR</text>
<text transform="translate(599.50 350.6) rotate(90)" x="0" y="0" font-size="8.8" stroke="#111" stroke-width="0.2" fill="#111" font-family='"Liberation Serif", serif' dominant-baseline="central">DSS+BBR</text>
<rect x="704.6" y="4.0" width="8.4" height="112.9" fill="url(#g2)"/>
<text x="716" y="15.50" font-size="8" fill="#222" font-family='"Liberation Sans", sans-serif' dominant-baseline="central">2</text>
<text x="716" y="38.20" font-size="8" fill="#222" font-family='"Liberation Sans", sans-serif' dominant-baseline="central">1</text>
<text x="716" y="60.90" font-size="8" fill="#222" font-family='"Liberation Sans", sans-serif' dominant-baseline="central">0</text>
<text x="716" y="83.60" font-size="8" fill="#222" font-family='"Liberation Sans", sans-serif' dominant-baseline="central">−1</text>
<text x="716" y="106.30" font-size="8" fill="#222" font-family='"Liberation Sans", sans-serif' dominant-baseline="central">−2</text>
<text x="0.8" y="10.1" font-size="13.6" fill="#111" font-family='"Liberation Serif", serif'>A</text>
<text x="0.8" y="419.2" font-size="14.5" fill="#111" font-family='"Liberation Serif", serif'>B</text>
<rect x="192.20" y="412.00" width="21.11" height="29.48" fill="#B8E0C0"/>
<rect x="212.71" y="412.00" width="21.11" height="29.48" fill="#B8E0C0"/>
<rect x="233.22" y="412.00" width="21.11" height="29.48" fill="#BCE0BC"/>
<rect x="253.73" y="412.00" width="21.11" height="29.48" fill="#E0F0C8"/>
<rect x="274.24" y="412.00" width="21.11" height="29.48" fill="#D4ECC4"/>
<rect x="294.75" y="412.00" width="21.11" height="29.48" fill="#F88038"/>
<rect x="315.26" y="412.00" width="21.11" height="29.48" fill="#D8EEC4"/>
<rect x="335.77" y="412.00" width="21.11" height="29.48" fill="#D0EAC0"/>
<rect x="356.28" y="412.00" width="20.51" height="29.48" fill="#E03024"/>
<rect x="192.20" y="440.88" width="21.11" height="29.48" fill="#C0E4C0"/>
<rect x="212.71" y="440.88" width="21.11" height="29.48" fill="#FCA040"/>
<rect x="233.22" y="440.88" width="21.11" height="29.48" fill="#F87A34"/>
<rect x="253.73" y="440.88" width="21.11" height="29.48" fill="#A8D8B8"/>
<rect x="274.24" y="440.88" width="21.11" height="29.48" fill="#A8D8B8"/>
<rect x="294.75" y="440.88" width="21.11" height="29.48" fill="#A8D8B8"/>
<rect x="315.26" y="440.88" width="21.11" height="29.48" fill="#A8D8B8"/>
<rect x="335.77" y="440.88" width="21.11" height="29.48" fill="#A8D8B8"/>
<rect x="356.28" y="440.88" width="20.51" height="29.48" fill="#FDB858"/>
<rect x="192.20" y="469.76" width="21.11" height="29.48" fill="#FDB050"/>
<rect x="212.71" y="469.76" width="21.11" height="29.48" fill="#FDC460"/>
<rect x="233.22" y="469.76" width="21.11" height="29.48" fill="#FDB050"/>
<rect x="253.73" y="469.76" width="21.11" height="29.48" fill="#98D0B8"/>
<rect x="274.24" y="469.76" width="21.11" height="29.48" fill="#98D0B8"/>
<rect x="294.75" y="469.76" width="21.11" height="29.48" fill="#78C0B8"/>
<rect x="315.26" y="469.76" width="21.11" height="29.48" fill="#D0EAC0"/>
<rect x="335.77" y="469.76" width="21.11" height="29.48" fill="#A0D4B8"/>
<rect x="356.28" y="469.76" width="20.51" height="29.48" fill="#FCAC50"/>
<rect x="192.20" y="498.64" width="21.11" height="29.48" fill="#FDD888"/>
<rect x="212.71" y="498.64" width="21.11" height="29.48" fill="#C4E4C0"/>
<rect x="233.22" y="498.64" width="21.11" height="29.48" fill="#E03024"/>
<rect x="253.73" y="498.64" width="21.11" height="29.48" fill="#B0DCBC"/>
<rect x="274.24" y="498.64" width="21.11" height="29.48" fill="#B0DCBC"/>
<rect x="294.75" y="498.64" width="21.11" height="29.48" fill="#A8D8B8"/>
<rect x="315.26" y="498.64" width="21.11" height="29.48" fill="#ACD8B8"/>
<rect x="335.77" y="498.64" width="21.11" height="29.48" fill="#D0EAC0"/>
<rect x="356.28" y="498.64" width="20.51" height="29.48" fill="#ACD8B8"/>
<rect x="192.20" y="527.52" width="21.11" height="29.48" fill="#94CCB8"/>
<rect x="212.71" y="527.52" width="21.11" height="29.48" fill="#94CCB8"/>
<rect x="233.22" y="527.52" width="21.11" height="29.48" fill="#98D0B8"/>
<rect x="253.73" y="527.52" width="21.11" height="29.48" fill="#F88038"/>
<rect x="274.24" y="527.52" width="21.11" height="29.48" fill="#FFFAC0"/>
<rect x="294.75" y="527.52" width="21.11" height="29.48" fill="#FDB858"/>
<rect x="315.26" y="527.52" width="21.11" height="29.48" fill="#FDB858"/>
<rect x="335.77" y="527.52" width="21.11" height="29.48" fill="#FCAC50"/>
<rect x="356.28" y="527.52" width="20.51" height="29.48" fill="#98D0B8"/>
<rect x="192.20" y="556.40" width="21.11" height="29.48" fill="#CCE8C2"/>
<rect x="212.71" y="556.40" width="21.11" height="29.48" fill="#CCE8C2"/>
<rect x="233.22" y="556.40" width="21.11" height="29.48" fill="#CCE8C2"/>
<rect x="253.73" y="556.40" width="21.11" height="29.48" fill="#D8EEC8"/>
<rect x="274.24" y="556.40" width="21.11" height="29.48" fill="#FDC868"/>
<rect x="294.75" y="556.40" width="21.11" height="29.48" fill="#C80C2C"/>
<rect x="315.26" y="556.40" width="21.11" height="29.48" fill="#F0F8CC"/>
<rect x="335.77" y="556.40" width="21.11" height="29.48" fill="#CCE8C2"/>
<rect x="356.28" y="556.40" width="20.51" height="29.48" fill="#CCE8C2"/>
<rect x="192.20" y="585.28" width="21.11" height="29.48" fill="#CCE8C2"/>
<rect x="212.71" y="585.28" width="21.11" height="29.48" fill="#B4DCBC"/>
<rect x="233.22" y="585.28" width="21.11" height="29.48" fill="#B4DCBC"/>
<rect x="253.73" y="585.28" width="21.11" height="29.48" fill="#8CCCB8"/>
<rect x="274.24" y="585.28" width="21.11" height="29.48" fill="#E8F4C8"/>
<rect x="294.75" y="585.28" width="21.11" height="29.48" fill="#98D0B8"/>
<rect x="315.26" y="585.28" width="21.11" height="29.48" fill="#FDC058"/>
<rect x="335.77" y="585.28" width="21.11" height="29.48" fill="#F88038"/>
<rect x="356.28" y="585.28" width="20.51" height="29.48" fill="#E0F0C8"/>
<rect x="192.20" y="614.16" width="21.11" height="29.48" fill="#F4FACC"/>
<rect x="212.71" y="614.16" width="21.11" height="29.48" fill="#FDEAA8"/>
<rect x="233.22" y="614.16" width="21.11" height="29.48" fill="#F8FCCC"/>
<rect x="253.73" y="614.16" width="21.11" height="29.48" fill="#CCE8C2"/>
<rect x="274.24" y="614.16" width="21.11" height="29.48" fill="#D8EEC8"/>
<rect x="294.75" y="614.16" width="21.11" height="29.48" fill="#B0DCBC"/>
<rect x="315.26" y="614.16" width="21.11" height="29.48" fill="#C4E4C0"/>
<rect x="335.77" y="614.16" width="21.11" height="29.48" fill="#C4E4C0"/>
<rect x="356.28" y="614.16" width="20.51" height="29.48" fill="#C80C2C"/>
<rect x="192.20" y="643.04" width="21.11" height="29.48" fill="#C4E4C0"/>
<rect x="212.71" y="643.04" width="21.11" height="29.48" fill="#B0DCBC"/>
<rect x="233.22" y="643.04" width="21.11" height="29.48" fill="#98D0B8"/>
<rect x="253.73" y="643.04" width="21.11" height="29.48" fill="#FDB858"/>
<rect x="274.24" y="643.04" width="21.11" height="29.48" fill="#F88038"/>
<rect x="294.75" y="643.04" width="21.11" height="29.48" fill="#CCE8C2"/>
<rect x="315.26" y="643.04" width="21.11" height="29.48" fill="#CCE8C2"/>
<rect x="335.77" y="643.04" width="21.11" height="29.48" fill="#FCA048"/>
<rect x="356.28" y="643.04" width="20.51" height="29.48" fill="#78C0B8"/>
<rect x="192.20" y="671.92" width="21.11" height="29.48" fill="#CCE8C2"/>
<rect x="212.71" y="671.92" width="21.11" height="29.48" fill="#E83A24"/>
<rect x="233.22" y="671.92" width="21.11" height="29.48" fill="#CCE8C2"/>
<rect x="253.73" y="671.92" width="21.11" height="29.48" fill="#CCE8C2"/>
<rect x="274.24" y="671.92" width="21.11" height="29.48" fill="#CCE8C2"/>
<rect x="294.75" y="671.92" width="21.11" height="29.48" fill="#CCE8C2"/>
<rect x="315.26" y="671.92" width="21.11" height="29.48" fill="#CCE8C2"/>
<rect x="335.77" y="671.92" width="21.11" height="29.48" fill="#CCE8C2"/>
<rect x="356.28" y="671.92" width="20.51" height="29.48" fill="#CCE8C2"/>
<rect x="192.20" y="700.80" width="21.11" height="29.48" fill="#FDDC90"/>
<rect x="212.71" y="700.80" width="21.11" height="29.48" fill="#CCE8C2"/>
<rect x="233.22" y="700.80" width="21.11" height="29.48" fill="#E84024"/>
<rect x="253.73" y="700.80" width="21.11" height="29.48" fill="#A0D4B8"/>
<rect x="274.24" y="700.80" width="21.11" height="29.48" fill="#E8F4C8"/>
<rect x="294.75" y="700.80" width="21.11" height="29.48" fill="#88CCB8"/>
<rect x="315.26" y="700.80" width="21.11" height="29.48" fill="#88CCB8"/>
<rect x="335.77" y="700.80" width="21.11" height="29.48" fill="#CCE8C2"/>
<rect x="356.28" y="700.80" width="20.51" height="29.48" fill="#FDDC90"/>
<rect x="192.20" y="729.68" width="21.11" height="29.48" fill="#FFF8C0"/>
<rect x="212.71" y="729.68" width="21.11" height="29.48" fill="#CCE8C2"/>
<rect x="233.22" y="729.68" width="21.11" height="29.48" fill="#A8D8B8"/>
<rect x="253.73" y="729.68" width="21.11" height="29.48" fill="#FDD888"/>
<rect x="274.24" y="729.68" width="21.11" height="29.48" fill="#FFF8C0"/>
<rect x="294.75" y="729.68" width="21.11" height="29.48" fill="#88CCB8"/>
<rect x="315.26" y="729.68" width="21.11" height="29.48" fill="#88CCB8"/>
<rect x="335.77" y="729.68" width="21.11" height="29.48" fill="#D82028"/>
<rect x="356.28" y="729.68" width="20.51" height="29.48" fill="#E0F0C8"/>
<rect x="192.20" y="758.56" width="21.11" height="29.48" fill="#A8D8B8"/>
<rect x="212.71" y="758.56" width="21.11" height="29.48" fill="#FDB858"/>
<rect x="233.22" y="758.56" width="21.11" height="29.48" fill="#B8E0BC"/>
<rect x="253.73" y="758.56" width="21.11" height="29.48" fill="#F87830"/>
<rect x="274.24" y="758.56" width="21.11" height="29.48" fill="#B8E0BC"/>
<rect x="294.75" y="758.56" width="21.11" height="29.48" fill="#E0F0C8"/>
<rect x="315.26" y="758.56" width="21.11" height="29.48" fill="#FDEEB0"/>
<rect x="335.77" y="758.56" width="21.11" height="29.48" fill="#B4DCBC"/>
<rect x="356.28" y="758.56" width="20.51" height="29.48" fill="#A8D8B8"/>
<rect x="192.20" y="787.44" width="21.11" height="29.48" fill="#C0E4C0"/>
<rect x="212.71" y="787.44" width="21.11" height="29.48" fill="#C0E4C0"/>
<rect x="233.22" y="787.44" width="21.11" height="29.48" fill="#C0E4C0"/>
<rect x="253.73" y="787.44" width="21.11" height="29.48" fill="#FDE8A8"/>
<rect x="274.24" y="787.44" width="21.11" height="29.48" fill="#B8E0BC"/>
<rect x="294.75" y="787.44" width="21.11" height="29.48" fill="#F8FCCC"/>
<rect x="315.26" y="787.44" width="21.11" height="29.48" fill="#FDEEB0"/>
<rect x="335.77" y="787.44" width="21.11" height="29.48" fill="#D01828"/>
<rect x="356.28" y="787.44" width="20.51" height="29.48" fill="#C0E4C0"/>
<rect x="192.20" y="816.32" width="21.11" height="29.48" fill="#B0DCBC"/>
<rect x="212.71" y="816.32" width="21.11" height="29.48" fill="#CCE8C2"/>
<rect x="233.22" y="816.32" width="21.11" height="29.48" fill="#B0DCBC"/>
<rect x="253.73" y="816.32" width="21.11" height="29.48" fill="#A8D8B8"/>
<rect x="274.24" y="816.32" width="21.11" height="29.48" fill="#FDD888"/>
<rect x="294.75" y="816.32" width="21.11" height="29.48" fill="#FCA048"/>
<rect x="315.26" y="816.32" width="21.11" height="29.48" fill="#CCE8C2"/>
<rect x="335.77" y="816.32" width="21.11" height="29.48" fill="#E83A24"/>
<rect x="356.28" y="816.32" width="20.51" height="29.48" fill="#B0DCBC"/>
<rect x="192.20" y="845.20" width="21.11" height="29.48" fill="#CCE8C2"/>
<rect x="212.71" y="845.20" width="21.11" height="29.48" fill="#E03024"/>
<rect x="233.22" y="845.20" width="21.11" height="29.48" fill="#CCE8C2"/>
<rect x="253.73" y="845.20" width="21.11" height="29.48" fill="#CCE8C2"/>
<rect x="274.24" y="845.20" width="21.11" height="29.48" fill="#CCE8C2"/>
<rect x="294.75" y="845.20" width="21.11" height="29.48" fill="#CCE8C2"/>
<rect x="315.26" y="845.20" width="21.11" height="29.48" fill="#CCE8C2"/>
<rect x="335.77" y="845.20" width="21.11" height="29.48" fill="#CCE8C2"/>
<rect x="356.28" y="845.20" width="20.51" height="29.48" fill="#CCE8C2"/>
<rect x="192.20" y="874.08" width="21.11" height="29.48" fill="#FDB858"/>
<rect x="212.71" y="874.08" width="21.11" height="29.48" fill="#CCE8C2"/>
<rect x="233.22" y="874.08" width="21.11" height="29.48" fill="#CCE8C2"/>
<rect x="253.73" y="874.08" width="21.11" height="29.48" fill="#CCE8C2"/>
<rect x="274.24" y="874.08" width="21.11" height="29.48" fill="#CCE8C2"/>
<rect x="294.75" y="874.08" width="21.11" height="29.48" fill="#CCE8C2"/>
<rect x="315.26" y="874.08" width="21.11" height="29.48" fill="#D4ECC4"/>
<rect x="335.77" y="874.08" width="21.11" height="29.48" fill="#D8EEC4"/>
<rect x="356.28" y="874.08" width="20.51" height="29.48" fill="#CCE8C2"/>
<rect x="192.20" y="902.96" width="21.11" height="29.48" fill="#CCE8C2"/>
<rect x="212.71" y="902.96" width="21.11" height="29.48" fill="#CCE8C2"/>
<rect x="233.22" y="902.96" width="21.11" height="29.48" fill="#CCE8C2"/>
<rect x="253.73" y="902.96" width="21.11" height="29.48" fill="#CCE8C2"/>
<rect x="274.24" y="902.96" width="21.11" height="29.48" fill="#D8EEC8"/>
<rect x="294.75" y="902.96" width="21.11" height="29.48" fill="#C8002C"/>
<rect x="315.26" y="902.96" width="21.11" height="29.48" fill="#FDE8A8"/>
<rect x="335.77" y="902.96" width="21.11" height="29.48" fill="#D8EEC8"/>
<rect x="356.28" y="902.96" width="20.51" height="29.48" fill="#CCE8C2"/>
<rect x="192.20" y="931.84" width="21.11" height="29.48" fill="#CCE8C2"/>
<rect x="212.71" y="931.84" width="21.11" height="29.48" fill="#CCE8C2"/>
<rect x="233.22" y="931.84" width="21.11" height="29.48" fill="#CCE8C2"/>
<rect x="253.73" y="931.84" width="21.11" height="29.48" fill="#CCE8C2"/>
<rect x="274.24" y="931.84" width="21.11" height="29.48" fill="#F4FACC"/>
<rect x="294.75" y="931.84" width="21.11" height="29.48" fill="#C8002C"/>
<rect x="315.26" y="931.84" width="21.11" height="29.48" fill="#CCE8C2"/>
<rect x="335.77" y="931.84" width="21.11" height="29.48" fill="#FFF8C0"/>
<rect x="356.28" y="931.84" width="20.51" height="29.48" fill="#CCE8C2"/>
<rect x="192.20" y="960.72" width="21.11" height="28.88" fill="#B0DCB8"/>
<rect x="212.71" y="960.72" width="21.11" height="28.88" fill="#F0F8C8"/>
<rect x="233.22" y="960.72" width="21.11" height="28.88" fill="#98D0B8"/>
<rect x="253.73" y="960.72" width="21.11" height="28.88" fill="#F86830"/>
<rect x="274.24" y="960.72" width="21.11" height="28.88" fill="#F88038"/>
<rect x="294.75" y="960.72" width="21.11" height="28.88" fill="#98D0B8"/>
<rect x="315.26" y="960.72" width="21.11" height="28.88" fill="#FFF4C0"/>
<rect x="335.77" y="960.72" width="21.11" height="28.88" fill="#FDBC58"/>
<rect x="356.28" y="960.72" width="20.51" height="28.88" fill="#98D0B8"/>
<text x="187" y="426.44" font-size="10.8" fill="#1a1a1a" font-family='"Liberation Sans", sans-serif' text-anchor="end" dominant-baseline="central">Clostridium perfringens</text>
<text x="187" y="455.32" font-size="10.8" fill="#1a1a1a" font-family='"Liberation Sans", sans-serif' text-anchor="end" dominant-baseline="central">Lactobacillus ruminis</text>
<text x="187" y="484.20" font-size="10.8" fill="#1a1a1a" font-family='"Liberation Sans", sans-serif' text-anchor="end" dominant-baseline="central">Prevotella copri</text>
<text x="187" y="513.08" font-size="10.8" fill="#1a1a1a" font-family='"Liberation Sans", sans-serif' text-anchor="end" dominant-baseline="central">Acidaminococcus fermentans</text>
<text x="187" y="541.96" font-size="10.8" fill="#1a1a1a" font-family='"Liberation Sans", sans-serif' text-anchor="end" dominant-baseline="central">Bacteroides vulgatus</text>
<text x="187" y="570.84" font-size="10.8" fill="#1a1a1a" font-family='"Liberation Sans", sans-serif' text-anchor="end" dominant-baseline="central">[Ruminococcus] gnavus</text>
<text x="187" y="599.72" font-size="10.8" fill="#1a1a1a" font-family='"Liberation Sans", sans-serif' text-anchor="end" dominant-baseline="central">Flavonifractor plautii</text>
<text x="187" y="628.60" font-size="10.8" fill="#1a1a1a" font-family='"Liberation Sans", sans-serif' text-anchor="end" dominant-baseline="central">Catenibacterium mitsuokai</text>
<text x="187" y="657.48" font-size="10.8" fill="#1a1a1a" font-family='"Liberation Sans", sans-serif' text-anchor="end" dominant-baseline="central">Bacteroides plebeius</text>
<text x="187" y="686.36" font-size="10.8" fill="#1a1a1a" font-family='"Liberation Sans", sans-serif' text-anchor="end" dominant-baseline="central">Desulfovibrio piger</text>
<text x="187" y="715.24" font-size="10.8" fill="#1a1a1a" font-family='"Liberation Sans", sans-serif' text-anchor="end" dominant-baseline="central">Megasphaera elsdenii</text>
<text x="187" y="744.12" font-size="10.8" fill="#1a1a1a" font-family='"Liberation Sans", sans-serif' text-anchor="end" dominant-baseline="central">Fusicatenibacter saccharivorans</text>
<text x="187" y="773.00" font-size="10.8" fill="#1a1a1a" font-family='"Liberation Sans", sans-serif' text-anchor="end" dominant-baseline="central">Escherichia coli</text>
<text x="187" y="801.88" font-size="10.8" fill="#1a1a1a" font-family='"Liberation Sans", sans-serif' text-anchor="end" dominant-baseline="central">Anaerotruncus colihominis</text>
<text x="187" y="830.76" font-size="10.8" fill="#1a1a1a" font-family='"Liberation Sans", sans-serif' text-anchor="end" dominant-baseline="central">Enterococcus cecorum</text>
<text x="187" y="859.64" font-size="10.8" fill="#1a1a1a" font-family='"Liberation Sans", sans-serif' text-anchor="end" dominant-baseline="central">Clostridium colicanis</text>
<text x="187" y="888.52" font-size="10.8" fill="#1a1a1a" font-family='"Liberation Sans", sans-serif' text-anchor="end" dominant-baseline="central">Campylobacter jejuni</text>
<text x="187" y="917.40" font-size="10.8" fill="#1a1a1a" font-family='"Liberation Sans", sans-serif' text-anchor="end" dominant-baseline="central">Bacteroides fragilis</text>
<text x="187" y="946.28" font-size="10.8" fill="#1a1a1a" font-family='"Liberation Sans", sans-serif' text-anchor="end" dominant-baseline="central">Peptostreptococcus russellii</text>
<text x="187" y="975.16" font-size="10.8" fill="#1a1a1a" font-family='"Liberation Sans", sans-serif' text-anchor="end" dominant-baseline="central">Faecalibacterium prausnitzii</text>
<text transform="translate(203.95 993.2) rotate(-90)" x="0" y="0" font-size="9.1" stroke="#1a1a1a" stroke-width="0.25" fill="#1a1a1a" font-family='"Liberation Sans", sans-serif' text-anchor="end" dominant-baseline="central">CON</text>
<text transform="translate(224.72 993.2) rotate(-90)" x="0" y="0" font-size="9.1" stroke="#1a1a1a" stroke-width="0.25" fill="#1a1a1a" font-family='"Liberation Sans", sans-serif' text-anchor="end" dominant-baseline="central">CON</text>
<text transform="translate(245.49 993.2) rotate(-90)" x="0" y="0" font-size="9.1" stroke="#1a1a1a" stroke-width="0.25" fill="#1a1a1a" font-family='"Liberation Sans", sans-serif' text-anchor="end" dominant-baseline="central">CON</text>
<text transform="translate(266.26 993.2) rotate(-90)" x="0" y="0" font-size="9.1" stroke="#1a1a1a" stroke-width="0.25" fill="#1a1a1a" font-family='"Liberation Sans", sans-serif' text-anchor="end" dominant-baseline="central">DSS</text>
<text transform="translate(287.03 993.2) rotate(-90)" x="0" y="0" font-size="9.1" stroke="#1a1a1a" stroke-width="0.25" fill="#1a1a1a" font-family='"Liberation Sans", sans-serif' text-anchor="end" dominant-baseline="central">DSS</text>
<text transform="translate(307.80 993.2) rotate(-90)" x="0" y="0" font-size="9.1" stroke="#1a1a1a" stroke-width="0.25" fill="#1a1a1a" font-family='"Liberation Sans", sans-serif' text-anchor="end" dominant-baseline="central">DSS</text>
<text transform="translate(328.57 993.2) rotate(-90)" x="0" y="0" font-size="9.1" stroke="#1a1a1a" stroke-width="0.25" fill="#1a1a1a" font-family='"Liberation Sans", sans-serif' text-anchor="end" dominant-baseline="central">DSS+BBR</text>
<text transform="translate(349.34 993.2) rotate(-90)" x="0" y="0" font-size="9.1" stroke="#1a1a1a" stroke-width="0.25" fill="#1a1a1a" font-family='"Liberation Sans", sans-serif' text-anchor="end" dominant-baseline="central">DSS+BBR</text>
<text transform="translate(370.11 993.2) rotate(-90)" x="0" y="0" font-size="9.1" stroke="#1a1a1a" stroke-width="0.25" fill="#1a1a1a" font-family='"Liberation Sans", sans-serif' text-anchor="end" dominant-baseline="central">DSS+BBR</text>
<rect x="384.60" y="418.15" width="242.50" height="21.20" fill="#BEBEBE" stroke="#111" stroke-width="1.4"/>
<rect x="384.60" y="446.86" width="68.60" height="21.20" fill="#BEBEBE" stroke="#111" stroke-width="1.4"/>
<rect x="384.60" y="475.57" width="32.50" height="21.20" fill="#BEBEBE" stroke="#111" stroke-width="1.4"/>
<rect x="384.60" y="504.28" width="26.50" height="21.20" fill="#BEBEBE" stroke="#111" stroke-width="1.4"/>
<rect x="384.60" y="533.00" width="22.10" height="21.20" fill="#BEBEBE" stroke="#111" stroke-width="1.4"/>
<rect x="384.60" y="561.70" width="17.50" height="21.20" fill="#BEBEBE" stroke="#111" stroke-width="1.4"/>
<rect x="384.60" y="590.41" width="17.10" height="21.20" fill="#BEBEBE" stroke="#111" stroke-width="1.4"/>
<rect x="384.60" y="619.12" width="15.90" height="21.20" fill="#BEBEBE" stroke="#111" stroke-width="1.4"/>
<rect x="384.60" y="647.83" width="12.90" height="21.20" fill="#BEBEBE" stroke="#111" stroke-width="1.4"/>
<rect x="384.60" y="676.54" width="12.70" height="21.20" fill="#BEBEBE" stroke="#111" stroke-width="1.4"/>
<rect x="384.60" y="705.25" width="12.30" height="21.20" fill="#BEBEBE" stroke="#111" stroke-width="1.4"/>
<rect x="384.60" y="733.97" width="10.60" height="21.20" fill="#BEBEBE" stroke="#111" stroke-width="1.4"/>
<rect x="384.60" y="762.67" width="9.90" height="21.20" fill="#BEBEBE" stroke="#111" stroke-width="1.4"/>
<rect x="384.60" y="791.38" width="9.40" height="21.20" fill="#BEBEBE" stroke="#111" stroke-width="1.4"/>
<rect x="384.60" y="820.09" width="8.30" height="21.20" fill="#BEBEBE" stroke="#111" stroke-width="1.4"/>
<rect x="384.60" y="848.80" width="8.10" height="21.20" fill="#BEBEBE" stroke="#111" stroke-width="1.4"/>
<rect x="384.60" y="877.51" width="6.60" height="21.20" fill="#BEBEBE" stroke="#111" stroke-width="1.4"/>
<rect x="384.60" y="906.23" width="3.90" height="21.20" fill="#BEBEBE" stroke="#111" stroke-width="1.4"/>
<rect x="384.60" y="934.93" width="3.30" height="21.20" fill="#BEBEBE" stroke="#111" stroke-width="1.4"/>
<rect x="384.60" y="963.64" width="2.90" height="21.20" fill="#BEBEBE" stroke="#111" stroke-width="1.4"/>
<rect x="384.60" y="414.40" width="254.40" height="574.20" fill="none" stroke="#111" stroke-width="1.5"/>
<path d="M385.10 988.60V993.10" stroke="#111" stroke-width="1.1"/>
<text transform="translate(385.90 998.6) rotate(-90)" x="0" y="0" font-size="14.2" fill="#111" font-family='"Liberation Sans", sans-serif' text-anchor="end" dominant-baseline="central">0</text>
<path d="M494.50 988.60V993.10" stroke="#111" stroke-width="1.1"/>
<text transform="translate(495.30 998.6) rotate(-90)" x="0" y="0" font-size="14.2" fill="#111" font-family='"Liberation Sans", sans-serif' text-anchor="end" dominant-baseline="central">0.2</text>
<path d="M603.90 988.60V993.10" stroke="#111" stroke-width="1.1"/>
<text transform="translate(604.70 998.6) rotate(-90)" x="0" y="0" font-size="14.2" fill="#111" font-family='"Liberation Sans", sans-serif' text-anchor="end" dominant-baseline="central">0.4</text>
<text x="458.9" y="1039" font-size="21.2" fill="#111" font-family='"Liberation Sans", sans-serif'>Importance</text>
<text x="648.9" y="678.7" font-size="17.7" font-weight="bold" fill="#111" font-family='"Liberation Sans", sans-serif'>Z−score</text>
<defs><linearGradient id="g3" x1="0" y1="0" x2="0" y2="1"><stop offset="0" stop-color="#C0002A"/><stop offset="0.12" stop-color="#D01428"/><stop offset="0.25" stop-color="#F04A20"/><stop offset="0.375" stop-color="#FCA040"/><stop offset="0.49" stop-color="#FFFFC0"/><stop offset="0.56" stop-color="#D0E8C0"/><stop offset="0.63" stop-color="#90C8B0"/><stop offset="0.75" stop-color="#30A8C0"/><stop offset="0.87" stop-color="#2050A0"/><stop offset="1" stop-color="#2A2A8A"/></linearGradient></defs>
<rect x="648.2" y="686.2" width="22" height="102.8" fill="url(#g3)"/>
<path d="M648.2 688.80H653.5M664.9 688.80H670.2" stroke="#FFF" stroke-width="1.2"/>
<text x="674.5" y="689.40" font-size="17" fill="#111" font-family='"Liberation Sans", sans-serif' dominant-baseline="central">4</text>
<path d="M648.2 712.90H653.5M664.9 712.90H670.2" stroke="#FFF" stroke-width="1.2"/>
<text x="674.5" y="713.50" font-size="17" fill="#111" font-family='"Liberation Sans", sans-serif' dominant-baseline="central">2</text>
<path d="M648.2 737.00H653.5M664.9 737.00H670.2" stroke="#FFF" stroke-width="1.2"/>
<text x="674.5" y="737.60" font-size="17" fill="#111" font-family='"Liberation Sans", sans-serif' dominant-baseline="central">0</text>
<path d="M648.2 761.10H653.5M664.9 761.10H670.2" stroke="#FFF" stroke-width="1.2"/>
<text x="674.5" y="761.70" font-size="17" fill="#111" font-family='"Liberation Sans", sans-serif' dominant-baseline="central">−2</text>
<path d="M648.2 785.20H653.5M664.9 785.20H670.2" stroke="#FFF" stroke-width="1.2"/>
<text x="674.5" y="785.80" font-size="17" fill="#111" font-family='"Liberation Sans", sans-serif' dominant-baseline="central">−4</text>
</svg>
</body></html>
